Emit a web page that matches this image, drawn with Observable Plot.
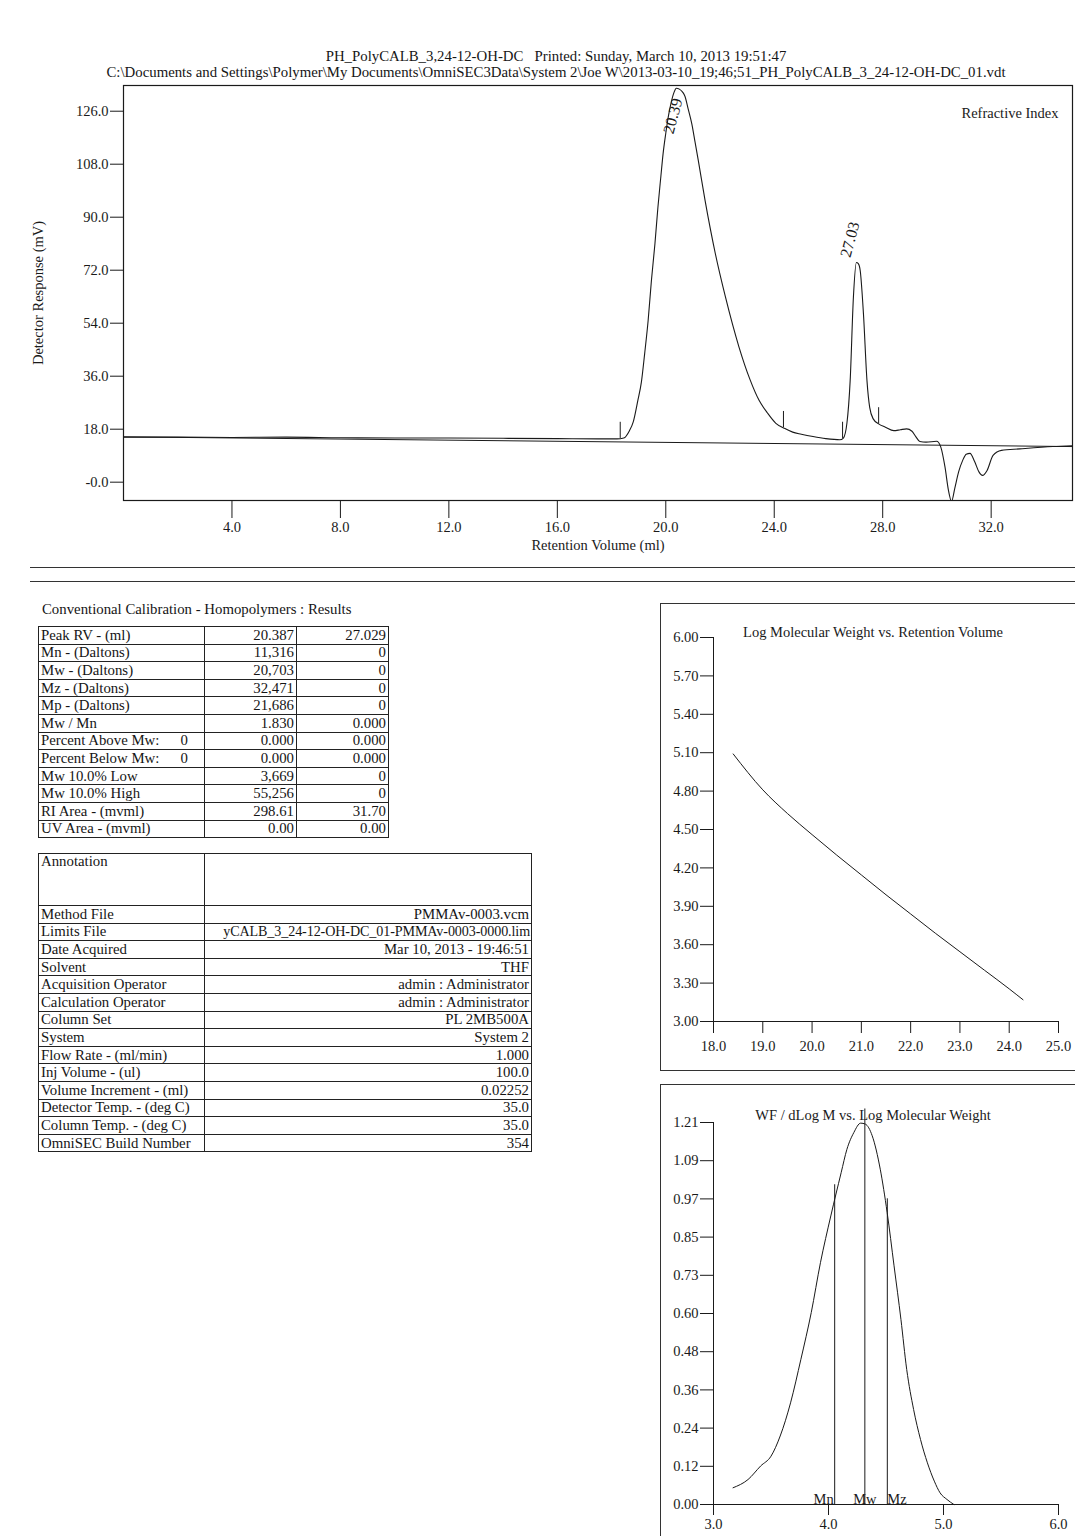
<!DOCTYPE html>
<html><head><meta charset="utf-8">
<script src="https://cdn.jsdelivr.net/npm/d3@7"></script>
<script src="https://cdn.jsdelivr.net/npm/@observablehq/plot@0.6"></script>
<style>
html,body{margin:0;padding:0;background:#fff;}
#page{position:relative;width:1075px;height:1536px;overflow:hidden;background:#fff;font-family:"Liberation Serif","Times New Roman",serif;color:#151515;}
.hdr{position:absolute;left:556px;transform:translateX(-50%);white-space:pre;font-size:14.8px;line-height:16px;}
.rule{position:absolute;left:30px;width:1045px;height:0;border-top:1.2px solid #333;}
.box{position:absolute;border:1px solid #333;}
.ttl{position:absolute;font-size:14.8px;white-space:pre;}
table.grid{position:absolute;border-collapse:collapse;font-size:14.8px;table-layout:fixed;}
table.grid td{border:1px solid #222;padding:0 2px;height:17.6px;line-height:15px;white-space:nowrap;overflow:hidden;box-sizing:border-box;}
table.grid td.v{text-align:right;}
table.grid td.tight{font-size:14.1px;padding:0 1px;letter-spacing:-0.1px;}
.lab{display:flex;justify-content:space-between;padding-right:14px;}
svg.plot{position:absolute;}
</style>
</head><body><div id="page"></div>
<script>
// ---------- header text ----------
const headerLine1 = "PH_PolyCALB_3,24-12-OH-DC   Printed: Sunday, March 10, 2013 19:51:47";
const headerLine2 = "C:\\Documents and Settings\\Polymer\\My Documents\\OmniSEC3Data\\System 2\\Joe W\\2013-03-10_19;46;51_PH_PolyCALB_3_24-12-OH-DC_01.vdt";

// ---------- chromatogram (RI trace) ----------
const traceRV = [0,2,4,6,8,10,12,14,16,17.5,18.2,18.45,18.66,18.8,18.97,19.1,19.22,19.35,19.47,19.6,19.71,19.82,19.9,20.0,20.09,20.2,20.3,20.39,20.5,20.62,20.71,20.82,20.96,21.08,21.2,21.45,21.83,22.2,22.7,23.1,23.44,23.75,24.06,24.4,24.68,25.0,25.43,25.9,26.42,26.55,26.68,26.8,26.92,27.03,27.1,27.17,27.29,27.42,27.52,27.65,27.85,28.1,28.41,28.65,28.88,29.08,29.22,29.37,29.6,29.99,30.14,30.3,30.42,30.54,30.66,30.8,30.95,31.08,31.22,31.39,31.55,31.68,31.85,32.07,32.38,33.06,34.28,35.0];
const traceMV = [15.3,15.3,15.2,15.3,15.1,15.0,15.0,14.9,14.8,14.7,14.7,15.0,17.5,20.5,27.8,34.0,43.6,55.0,68.5,81.0,93.4,104.0,111.5,118.5,124.0,129.0,132.3,133.8,133.5,132.5,131.0,127.0,121.7,115.5,109.2,95.6,77.5,62.9,45.9,35.0,27.8,23.5,20.0,18.2,17.0,16.3,15.5,14.8,14.4,15.0,20.0,34.5,62.9,74.6,74.2,71.9,57.2,34.5,25.4,21.5,19.8,18.7,17.5,17.8,18.1,17.3,15.5,13.8,13.6,13.9,12.0,5.0,-2.5,-6.5,-2.0,3.5,7.4,9.5,9.8,7.0,3.5,2.3,4.0,9.1,10.8,11.3,12.1,12.4];
const baselineRV = [0, 35];
const baselineMV = [15.4, 12.1];
const peakLimitRV = [18.32, 24.34, 26.52, 27.85];
const chromXDomain = [0, 35];
const chromYDomain = [-6.22, 134.73];
const chromXTicks = [4, 8, 12, 16, 20, 24, 28, 32];
const chromYTicks = [0, 18, 36, 54, 72, 90, 108, 126];
const chromYTickLabels = ["-0.0","18.0","36.0","54.0","72.0","90.0","108.0","126.0"];

// ---------- results table ----------
const resultsTitle = "Conventional Calibration - Homopolymers : Results";
const resultLabels = ["Peak RV - (ml)","Mn - (Daltons)","Mw - (Daltons)","Mz - (Daltons)","Mp - (Daltons)","Mw / Mn","Percent Above Mw:","Percent Below Mw:","Mw 10.0% Low","Mw 10.0% High","RI Area - (mvml)","UV Area - (mvml)"];
const resultAux = ["","","","","","","0","0","","","",""];
const peak1Values = ["20.387","11,316","20,703","32,471","21,686","1.830","0.000","0.000","3,669","55,256","298.61","0.00"];
const peak2Values = ["27.029","0","0","0","0","0.000","0.000","0.000","0","0","31.70","0.00"];
const peakRVs = [20.387, 27.029];

// ---------- info table ----------
const infoLabels = ["Method File","Limits File","Date Acquired","Solvent","Acquisition Operator","Calculation Operator","Column Set","System","Flow Rate - (ml/min)","Inj Volume - (ul)","Volume Increment - (ml)","Detector Temp. - (deg C)","Column Temp. - (deg C)","OmniSEC Build Number"];
const infoValues = ["PMMAv-0003.vcm","yCALB_3_24-12-OH-DC_01-PMMAv-0003-0000.lim","Mar 10, 2013 - 19:46:51","THF","admin : Administrator","admin : Administrator","PL 2MB500A","System 2","1.000","100.0","0.02252","35.0","35.0","354"];

// ---------- calibration curve ----------
const calTitle = "Log Molecular Weight vs. Retention Volume";
const calRV = [18.40,19.0,19.5,20.0,20.5,21.0,21.5,22.0,22.5,23.0,23.5,24.0,24.28];
const calLogM = [5.09,4.81,4.625,4.46,4.30,4.145,3.99,3.84,3.69,3.545,3.40,3.255,3.17];
const calXDomain = [18, 25];
const calYDomain = [3, 6];
const calXTicks = [18,19,20,21,22,23,24,25];
const calYTicks = [3.0,3.3,3.6,3.9,4.2,4.5,4.8,5.1,5.4,5.7,6.0];

// ---------- MWD ----------
const mwdTitle = "WF / dLog M vs. Log Molecular Weight";
const mwdLogM = [3.17,3.30,3.41,3.50,3.58,3.67,3.76,3.85,3.93,4.02,4.11,4.16,4.22,4.28,4.32,4.38,4.45,4.51,4.57,4.63,4.68,4.74,4.80,4.86,4.92,4.97,5.03,5.09];
const mwdWF = [0.053,0.079,0.122,0.153,0.217,0.322,0.460,0.608,0.766,0.914,1.051,1.125,1.178,1.208,1.205,1.168,1.062,0.925,0.756,0.586,0.428,0.301,0.206,0.132,0.074,0.037,0.016,0.0];
const mwdXDomain = [3, 6];
const mwdYDomain = [0, 1.21];
const mwdXTicks = [3, 4, 5, 6];
const mwdYTicks = [0,0.121,0.242,0.363,0.484,0.605,0.726,0.847,0.968,1.089,1.21];
const mwdYTickLabels = ["0.00","0.12","0.24","0.36","0.48","0.60","0.73","0.85","0.97","1.09","1.21"];
const averageNames = ["Mn","Mw","Mz"];
const averageValues = [11316, 20703, 32471];

// ================= build =================
const page = document.getElementById("page");
const FONT = '"Liberation Serif","Times New Roman",serif';
const INK = "#1a1a1a";

function interp(xs, ys, x) {
  const i = Math.max(1, Math.min(xs.length - 1, d3.bisectRight(xs, x)));
  const t = (x - xs[i-1]) / (xs[i] - xs[i-1]);
  return ys[i-1] + t * (ys[i] - ys[i-1]);
}
function place(el, left, top) { el.style.position = "absolute"; el.style.left = left + "px"; el.style.top = top + "px"; page.appendChild(el); }
function div(cls, text, left, top) { const d = document.createElement("div"); d.className = cls; if (text != null) d.textContent = text; d.style.left = left + "px"; d.style.top = top + "px"; page.appendChild(d); return d; }

// header
div("hdr", headerLine1, 556, 48);
div("hdr", headerLine2, 556, 64);

// chromatogram
const trace = traceRV.map((x, i) => ({rv: x, mv: traceMV[i]}));
const baseline = baselineRV.map((x, i) => ({rv: x, mv: baselineMV[i]}));
const yLab = new Map(chromYTicks.map((t, i) => [t, chromYTickLabels[i]]));
const peaks = peakRVs.map(rv => ({rv, mv: interp(traceRV, traceMV, rv), label: rv.toFixed(2)}));
const baseStyle = {fontFamily: FONT, fontSize: "14.5px", background: "transparent", color: INK, overflow: "visible"};

const chrom = Plot.plot({
  width: 1075, height: 480,
  marginTop: 5, marginBottom: 60, marginLeft: 123, marginRight: 3,
  style: baseStyle,
  x: {domain: chromXDomain},
  y: {domain: chromYDomain},
  marks: [
    Plot.frame({stroke: INK, strokeWidth: 1.2}),
    Plot.axisY(chromYTicks, {tickSize: 13, tickPadding: 2, tickFormat: d => yLab.get(d), label: null, stroke: INK}),
    Plot.axisX(chromXTicks, {tickSize: 18, tickPadding: 3, tickFormat: d => d.toFixed(1), label: null, stroke: INK}),
    Plot.text(["Detector Response (mV)"], {text: d => d, frameAnchor: "left", textAnchor: "middle", lineAnchor: "middle", rotate: -90, dx: -85}),
    Plot.text(["Retention Volume (ml)"], {text: d => d, frameAnchor: "bottom", textAnchor: "middle", lineAnchor: "middle", dy: 45}),
    Plot.text(["Refractive Index"], {text: d => d, frameAnchor: "top-right", textAnchor: "end", lineAnchor: "middle", dx: -14, dy: 28}),
    Plot.line(baseline, {x: "rv", y: "mv", stroke: INK, strokeWidth: 1}),
    Plot.line(trace, {x: "rv", y: "mv", stroke: INK, strokeWidth: 1.1, curve: "monotone-x", clip: true}),
    Plot.ruleX(peakLimitRV, {x: d => d, y1: d => interp(traceRV, traceMV, d), y2: d => interp(traceRV, traceMV, d) + 5.5, stroke: INK}),
    Plot.text([peaks[0]], {x: "rv", y: "mv", text: "label", rotate: -75, textAnchor: "start", lineAnchor: "middle", fontSize: 16, dx: -8, dy: 45}),
    Plot.text([peaks[1]], {x: "rv", y: "mv", text: "label", rotate: -75, textAnchor: "start", lineAnchor: "middle", fontSize: 16, dx: -11, dy: -6})
  ]
});
chrom.classList.add("plot");
place(chrom, 0, 80);

// divider rules
div("rule", null, 30, 567);
div("rule", null, 30, 581);

// results table
div("ttl", resultsTitle, 42, 601);
(function(){
  const t = document.createElement("table"); t.className = "grid";
  const cg = document.createElement("colgroup");
  [166, 92, 92].forEach(w => { const c = document.createElement("col"); c.style.width = w + "px"; cg.appendChild(c); });
  t.appendChild(cg);
  t.style.width = "350px";
  resultLabels.forEach((lab, i) => {
    const tr = document.createElement("tr");
    const a = document.createElement("td");
    if (resultAux[i]) { const s = document.createElement("div"); s.className = "lab"; const s1 = document.createElement("span"); s1.textContent = lab; const s2 = document.createElement("span"); s2.textContent = resultAux[i]; s.appendChild(s1); s.appendChild(s2); a.appendChild(s); }
    else a.textContent = lab;
    const b = document.createElement("td"); b.className = "v"; b.textContent = peak1Values[i];
    const c = document.createElement("td"); c.className = "v"; c.textContent = peak2Values[i];
    tr.append(a, b, c); t.appendChild(tr);
  });
  t.style.left = "38px"; t.style.top = "626px";
  page.appendChild(t);
})();

// info table
(function(){
  const t = document.createElement("table"); t.className = "grid";
  const cg = document.createElement("colgroup");
  [166, 327].forEach(w => { const c = document.createElement("col"); c.style.width = w + "px"; cg.appendChild(c); });
  t.appendChild(cg);
  t.style.width = "493px";
  const tr0 = document.createElement("tr");
  const a0 = document.createElement("td"); a0.textContent = "Annotation"; a0.style.height = "52px"; a0.style.verticalAlign = "top";
  const b0 = document.createElement("td");
  tr0.append(a0, b0); t.appendChild(tr0);
  infoLabels.forEach((lab, i) => {
    const tr = document.createElement("tr");
    const a = document.createElement("td"); a.textContent = lab;
    const b = document.createElement("td"); b.className = "v"; b.textContent = infoValues[i];
    if (infoValues[i].length > 36) b.classList.add("tight");
    tr.append(a, b); t.appendChild(tr);
  });
  t.style.left = "38px"; t.style.top = "853px";
  page.appendChild(t);
})();

// boxes for the right-hand plots
const box1 = div("box", null, 660, 603); box1.style.width = "440px"; box1.style.height = "466px";
const box2 = div("box", null, 660, 1084); box2.style.width = "440px"; box2.style.height = "520px";

// calibration plot
const cal = calRV.map((x, i) => ({rv: x, lm: calLogM[i]}));
const calPlot = Plot.plot({
  width: 415, height: 467,
  marginTop: 34, marginBottom: 49, marginLeft: 53, marginRight: 17,
  style: baseStyle,
  x: {domain: calXDomain},
  y: {domain: calYDomain},
  marks: [
    Plot.ruleX([calXDomain[0]], {stroke: INK}),
    Plot.ruleY([calYDomain[0]], {stroke: INK}),
    Plot.axisY(calYTicks, {tickSize: 13, tickPadding: 2, tickFormat: d => d.toFixed(2), label: null, stroke: INK}),
    Plot.axisX(calXTicks, {tickSize: 12, tickPadding: 7, tickFormat: d => d.toFixed(1), label: null, stroke: INK}),
    Plot.text([calTitle], {text: d => d, frameAnchor: "top", textAnchor: "middle", lineAnchor: "middle", dx: -13, dy: -5}),
    Plot.line(cal, {x: "rv", y: "lm", stroke: INK, strokeWidth: 1, curve: "monotone-x"})
  ]
});
calPlot.classList.add("plot");
place(calPlot, 660, 603);

// MWD plot
const mwd = mwdLogM.map((x, i) => ({lm: x, wf: mwdWF[i]}));
const avgs = averageNames.map((n, i) => ({name: n, lm: Math.log10(averageValues[i])}));
avgs.forEach(d => d.h = interp(mwdLogM, mwdWF, d.lm));
const mLab = new Map(mwdYTicks.map((t, i) => [t, mwdYTickLabels[i]]));
const mwdPlot = Plot.plot({
  width: 415, height: 452,
  marginTop: 38, marginBottom: 32, marginLeft: 53, marginRight: 17,
  style: baseStyle,
  x: {domain: mwdXDomain},
  y: {domain: mwdYDomain},
  marks: [
    Plot.ruleX([mwdXDomain[0]], {stroke: INK}),
    Plot.ruleY([mwdYDomain[0]], {stroke: INK}),
    Plot.axisY(mwdYTicks, {tickSize: 13, tickPadding: 2, tickFormat: d => mLab.get(d), label: null, stroke: INK}),
    Plot.axisX(mwdXTicks, {tickSize: 11, tickPadding: 3, tickFormat: d => d.toFixed(1), label: null, stroke: INK}),
    Plot.text([mwdTitle], {text: d => d, frameAnchor: "top", textAnchor: "middle", lineAnchor: "middle", dx: -13, dy: -7}),
    Plot.line(mwd, {x: "lm", y: "wf", stroke: INK, strokeWidth: 1, curve: "monotone-x"}),
    Plot.ruleX(avgs, {x: "lm", y1: 0, y2: "h", insetBottom: 15, stroke: INK}),
    Plot.text([avgs[0]], {x: "lm", y: 0, text: "name", textAnchor: "end", lineAnchor: "bottom", dx: -1, dy: -1}),
    Plot.text([avgs[1]], {x: "lm", y: 0, text: "name", textAnchor: "middle", lineAnchor: "bottom", dy: -1}),
    Plot.text([avgs[2]], {x: "lm", y: 0, text: "name", textAnchor: "start", lineAnchor: "bottom", dx: 0, dy: -1})
  ]
});
mwdPlot.classList.add("plot");
place(mwdPlot, 660, 1084);
</script>
</body></html>
